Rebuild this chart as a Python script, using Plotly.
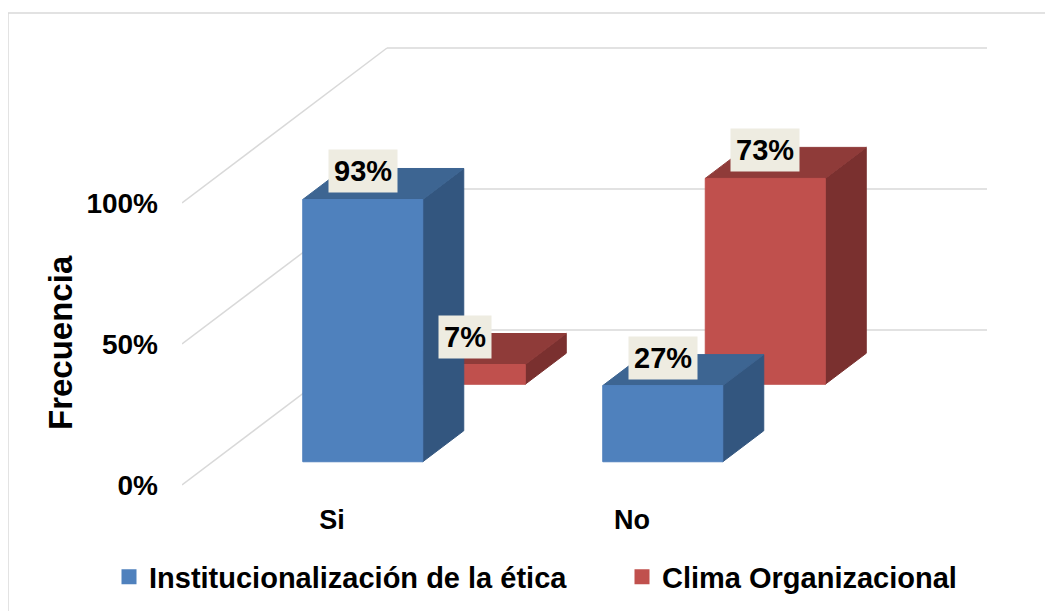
import plotly.graph_objects as go

# data
categories = ["Si", "No"]
series_names = ["Institucionalización de la ética", "Clima Organizacional"]
etica = [93, 27]
clima = [7, 73]
tick_vals = [0, 50, 100]
tick_text = ["0%", "50%", "100%"]

# pseudo-3D geometry (Excel style oblique projection)
DX = 205 / 300      # x shift (category units) for full depth
DY = 155 / 2.82     # y shift (% units) for full depth
BAR_W = 0.4
BAR_D = 0.2

front_cols = ["#4F81BD", "#C0504D"]
top_cols = ["#3D6592", "#8F3B39"]
side_cols = ["#33567F", "#7A302F"]
grid_col = "#D9D9D9"
FONT = "Liberation Sans"


def proj(u, d, v):
    return u + d * DX, v + d * DY


def poly(pts):
    xs, ys = zip(*[proj(*p) for p in pts])
    return list(xs) + [xs[0]], list(ys) + [ys[0]]


fig = go.Figure()

# walls: back wall lines and left wall diagonals
for v in tick_vals:
    for a, b in [((0, 1, v), (len(categories), 1, v)), ((0, 0, v), (0, 1, v))]:
        x0, y0 = proj(*a)
        x1, y1 = proj(*b)
        fig.add_trace(go.Scatter(x=[x0, x1], y=[y0, y1], mode="lines",
                                 line=dict(color=grid_col, width=1.5),
                                 hoverinfo="skip", showlegend=False))


def add_face(pts, color, name):
    xs, ys = poly(pts)
    fig.add_trace(go.Scatter(x=xs, y=ys, fill="toself", fillcolor=color,
                             mode="lines", line=dict(color=color, width=1),
                             hoverinfo="skip", showlegend=False, name=name))


rows = [(1, clima), (0, etica)]  # back row first
labels = []
for s, vals in rows:
    d0 = 0.25 + 0.5 * s - BAR_D / 2
    d1 = d0 + BAR_D
    for i, v in enumerate(vals):
        u0 = i + 0.5 - BAR_W / 2
        u1 = u0 + BAR_W
        add_face([(u1, d0, 0), (u1, d1, 0), (u1, d1, v), (u1, d0, v)], side_cols[s], series_names[s])
        add_face([(u0, d0, v), (u1, d0, v), (u1, d1, v), (u0, d1, v)], top_cols[s], series_names[s])
        add_face([(u0, d0, 0), (u1, d0, 0), (u1, d0, v), (u0, d0, v)], front_cols[s], series_names[s])
        lx, ly = proj(i + 0.5, d0, v)
        labels.append((lx, ly, f"{v}%"))

for lx, ly, t in labels:
    fig.add_annotation(x=lx, y=ly, text=t, showarrow=False, yshift=28,
                       bgcolor="#EEECE1", borderpad=5,
                       font=dict(family=FONT, size=29, color="black", weight="bold"))

# legend entries, one legend each so they sit on one row
for s, lg in enumerate(["legend", "legend2"]):
    fig.add_trace(go.Scatter(x=[None], y=[None], mode="markers", name=series_names[s],
                             legend=lg,
                             marker=dict(symbol="square", size=15, color=front_cols[s])))

fig.add_annotation(text="Frecuencia", xref="paper", yref="paper", x=-0.1434, y=0.322,
                   xanchor="center", yanchor="middle",
                   textangle=-90, showarrow=False,
                   font=dict(family=FONT, size=33, color="black", weight="bold"))

# chart border
fig.add_shape(type="rect", xref="paper", yref="paper", x0=-0.2045, y0=-0.5, x1=1.2, y1=1.0147,
              line=dict(color=grid_col, width=1.5), layer="below")

leg_font = dict(family=FONT, size=29, color="black", weight="bold")
fig.update_layout(
    width=1053, height=611,
    margin=dict(l=174, r=28, t=12, b=124, autoexpand=False),
    paper_bgcolor="white", plot_bgcolor="white",
    font=dict(family=FONT, color="black"),
    showlegend=True,
    legend=dict(orientation="h", xref="container", yref="container", x=101 / 1053, y=1 - 569 / 611,
                xanchor="left", yanchor="middle", font=leg_font, bgcolor="rgba(0,0,0,0)"),
    legend2=dict(orientation="h", xref="container", yref="container", x=614 / 1053, y=1 - 569 / 611,
                 xanchor="left", yanchor="middle", font=leg_font, bgcolor="rgba(0,0,0,0)"),
    xaxis=dict(range=[0, 851 / 300], tickvals=[i + 0.5 for i in range(len(categories))],
               ticktext=categories, showgrid=False, zeroline=False, showline=False,
               ticks="", ticklabelstandoff=6,
               tickfont=dict(family=FONT, size=27, color="black", weight="bold")),
    yaxis=dict(range=[(485 - 495) / 2.82, (485 - 20) / 2.82], tickvals=tick_vals,
               ticktext=tick_text, showgrid=False, zeroline=False, showline=False,
               ticks="", ticklabelstandoff=23,
               tickfont=dict(family=FONT, size=28, color="black", weight="bold")),
)

fig.write_html("out.html")
